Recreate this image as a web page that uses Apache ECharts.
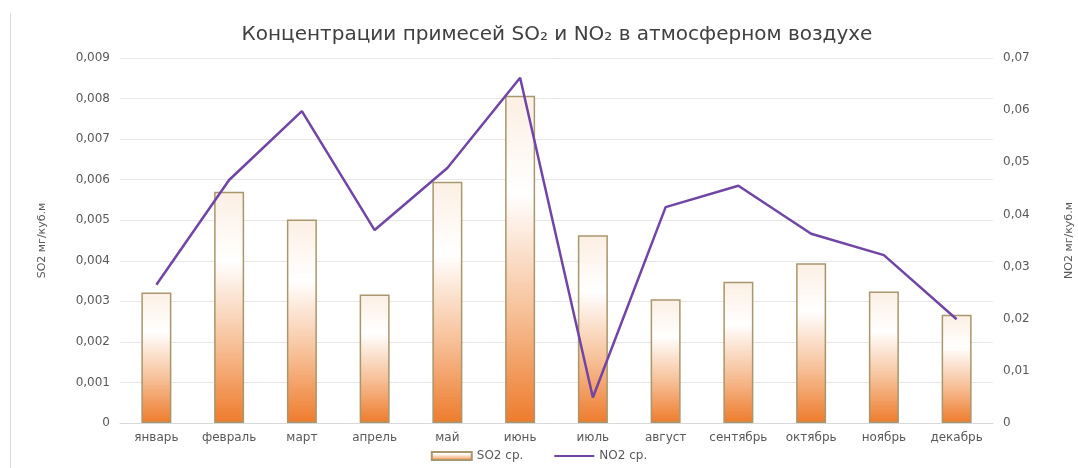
<!DOCTYPE html>
<html>
<head>
<meta charset="utf-8">
<script src="https://cdn.jsdelivr.net/npm/echarts@6/dist/echarts.min.js"></script>
<style>
  html, body { margin: 0; padding: 0; background: #fff; }
  #chart { width: 1078px; height: 468px; }
</style>
</head>
<body>
<div id="chart"></div>
<script>
// Monthly averages, mg per cubic metre
const months = ['январь', 'февраль', 'март', 'апрель', 'май', 'июнь', 'июль', 'август', 'сентябрь', 'октябрь', 'ноябрь', 'декабрь'];
const so2 = [0.00322, 0.0057, 0.00502, 0.00317, 0.00595, 0.00807, 0.00463, 0.00305, 0.00348, 0.00394, 0.00324, 0.00267];
const no2 = [0.0265, 0.0466, 0.0598, 0.0370, 0.0489, 0.0662, 0.0049, 0.0414, 0.0455, 0.0363, 0.0322, 0.0199];

const FONT = 'DejaVu Sans';
const GREY = '#595959';
const comma = (digits) => (v) => v === 0 ? '0' : v.toFixed(digits).replace('.', ',');

const chart = echarts.init(document.getElementById('chart'));
chart.setOption({
  backgroundColor: '#ffffff',
  animation: false,
  textStyle: { fontFamily: FONT },
  title: {
    text: 'Концентрации примесей SO₂ и NO₂ в атмосферном воздухе',
    left: 552,
    textAlign: 'center',
    top: 20,
    textStyle: { fontFamily: FONT, fontSize: 20, fontWeight: 'normal', color: '#404040' }
  },
  graphic: [{
    type: 'line',
    shape: { x1: 10.5, y1: 13, x2: 10.5, y2: 468 },
    style: { stroke: '#dcdcdc', lineWidth: 1 }
  }],
  grid: { left: 120, right: 85, top: 58, bottom: 45, containLabel: false, outerBoundsMode: 'none' },
  legend: {
    bottom: 1,
    left: 'center',
    itemWidth: 40,
    itemHeight: 8,
    itemGap: 30,
    textStyle: { fontFamily: FONT, fontSize: 12, color: GREY },
    data: [
      { name: 'SO2 ср.', icon: 'rect' },
      { name: 'NO2 ср.', itemStyle: { opacity: 0 } }
    ]
  },
  xAxis: {
    type: 'category',
    data: months,
    axisTick: { show: false },
    axisLine: { lineStyle: { color: '#d9d9d9' } },
    axisLabel: { interval: 0, margin: 9, fontSize: 12, color: GREY, fontFamily: FONT }
  },
  yAxis: [{
    type: 'value',
    min: 0,
    max: 0.009,
    interval: 0.001,
    name: 'SO2 мг/куб.м',
    nameLocation: 'middle',
    nameGap: 72,
    nameTextStyle: { fontSize: 11, color: GREY, fontFamily: FONT },
    axisLabel: { formatter: comma(3), margin: 10, fontSize: 12, color: GREY, fontFamily: FONT },
    splitLine: { lineStyle: { color: '#e6e6e6' } }
  }, {
    type: 'value',
    min: 0,
    max: 0.07,
    interval: 0.01,
    name: 'NO2 мг/куб.м',
    nameLocation: 'middle',
    nameGap: 71,
    nameTextStyle: { fontSize: 11, color: GREY, fontFamily: FONT },
    axisLabel: { formatter: comma(2), margin: 10, fontSize: 12, color: GREY, fontFamily: FONT },
    splitLine: { show: false }
  }],
  series: [{
    name: 'SO2 ср.',
    type: 'bar',
    data: so2,
    yAxisIndex: 0,
    barWidth: 30,
    itemStyle: {
      color: new echarts.graphic.LinearGradient(0, 0, 0, 1, [
        { offset: 0, color: '#fcefe3' },
        { offset: 0.3, color: '#ffffff' },
        { offset: 0.65, color: '#f7c29b' },
        { offset: 1, color: '#ee7b2c' }
      ]),
      borderColor: '#a8976c',
      borderWidth: 1.5
    }
  }, {
    name: 'NO2 ср.',
    type: 'line',
    data: no2,
    yAxisIndex: 1,
    symbol: 'none',
    lineStyle: { color: '#7145a6', width: 2.5 },
    itemStyle: { color: '#7145a6' }
  }]
});
</script>
</body>
</html>
